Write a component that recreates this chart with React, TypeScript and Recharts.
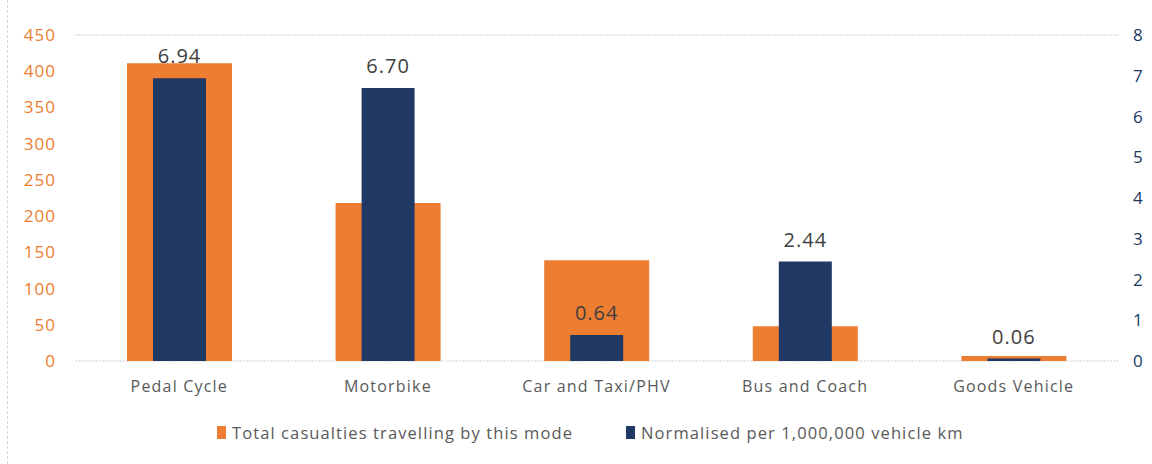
import { Bar, BarChart, CartesianGrid, LabelList, Legend, XAxis, YAxis } from 'recharts';

const modes = ['Pedal Cycle', 'Motorbike', 'Car and Taxi/PHV', 'Bus and Coach', 'Goods Vehicle'];
const totalCasualties = [411, 218, 139, 48, 7];
const normalisedPerMillionKm = [6.94, 6.7, 0.64, 2.44, 0.06];
const leftTicks = [0, 50, 100, 150, 200, 250, 300, 350, 400, 450];
const rightTicks = [0, 1, 2, 3, 4, 5, 6, 7, 8];

const data = modes.map((mode, i) => ({
  mode,
  total: totalCasualties[i],
  normalised: normalisedPerMillionKm[i],
}));

const ORANGE = '#ED7D31';
const NAVY = '#203864';
const FONT = '"Open Sans", "Noto Sans", sans-serif';

function ChartLegend() {
  const item = (color: string, text: string, gap: number) => (
    <span style={{ display: 'inline-flex', alignItems: 'center', marginLeft: gap }}>
      <span style={{ width: 9, height: 13, background: color, marginRight: 6, display: 'inline-block' }} />
      <span style={{ fontSize: 16.5, color: '#595959', letterSpacing: 1.1 }}>{text}</span>
    </span>
  );
  return (
    <div style={{ fontFamily: FONT, paddingTop: 20, paddingLeft: 217, display: 'flex', whiteSpace: 'nowrap' }}>
      {item(ORANGE, 'Total casualties travelling by this mode', 0)}
      {item(NAVY, 'Normalised per 1,000,000 vehicle km', 53)}
    </div>
  );
}

export default function App() {
  return (
    <div
      style={{
        position: 'fixed',
        left: 0,
        top: 0,
        width: 1152,
        height: 464,
        overflow: 'hidden',
        background: '#fff',
      }}
    >
      <BarChart
        width={1152}
        height={464}
        data={data}
        margin={{ top: 35, right: 0, bottom: 0, left: 0 }}
        style={{ fontFamily: FONT }}
      >
        <CartesianGrid vertical={false} stroke="#d0d0d0" strokeDasharray="2 1" />
        <XAxis
          xAxisId="a"
          dataKey="mode"
          axisLine={false}
          tickLine={false}
          tick={{ fill: '#595959', fontSize: 16, letterSpacing: 1.2 }}
          tickMargin={14}
          height={40}
        />
        <XAxis xAxisId="b" dataKey="mode" hide />
        <YAxis
          yAxisId="left"
          domain={[0, 450]}
          ticks={leftTicks}
          axisLine={false}
          tickLine={false}
          tick={{ fill: ORANGE, fontSize: 17, letterSpacing: 1 }}
          tickMargin={13}
          width={75}
        />
        <YAxis
          yAxisId="right"
          orientation="right"
          domain={[0, 8]}
          ticks={rightTicks}
          axisLine={false}
          tickLine={false}
          tick={{ fill: NAVY, fontSize: 17 }}
          tickMargin={9}
          width={34}
        />
        <Legend verticalAlign="bottom" height={63} content={() => <ChartLegend />} />
        <Bar
          xAxisId="a"
          yAxisId="left"
          dataKey="total"
          fill={ORANGE}
          barSize={105}
          isAnimationActive={false}
        />
        <Bar
          xAxisId="b"
          yAxisId="right"
          dataKey="normalised"
          fill={NAVY}
          barSize={53}
          isAnimationActive={false}
        >
          <LabelList
            dataKey="normalised"
            position="top"
            offset={15}
            formatter={(v: any) => Number(v).toFixed(2)}
            style={{ fill: '#404040', fontSize: 20, letterSpacing: 1 }}
          />
        </Bar>
      </BarChart>
      <div
        style={{
          position: 'absolute',
          left: 7,
          top: 0,
          width: 0,
          height: 464,
          borderLeft: '1px dashed #d6d6d6',
        }}
      />
    </div>
  );
}
